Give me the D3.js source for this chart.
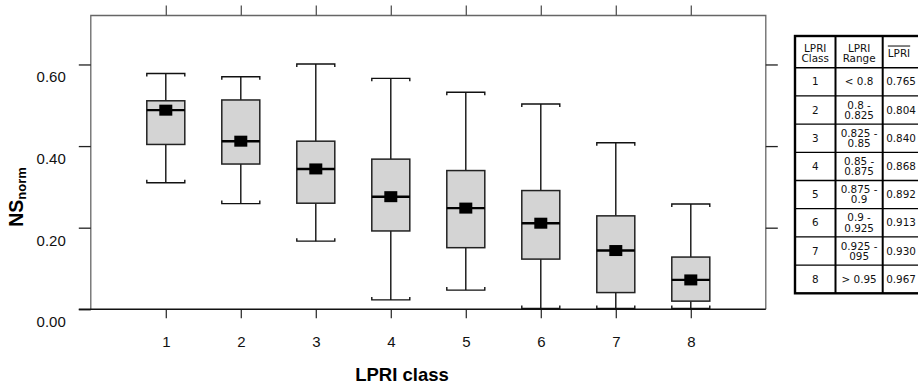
<!DOCTYPE html>
<html>
<head>
<meta charset="utf-8">
<script src="https://cdn.jsdelivr.net/npm/d3@7"></script>
<style>
    body { margin: 0; background: #fff; }
    svg { display: block; }
    .axis text { font-family: "Liberation Sans", Arial, sans-serif; font-size: 15px; fill: #111; }
    .tbl text { font-family: "DejaVu Sans", Tahoma, sans-serif; font-size: 10.4px; fill: #111; }
</style>
</head>
<body>
<script>
'use strict';

// box statistics per LPRI class
const classes = [1, 2, 3, 4, 5, 6, 7, 8];
const whisker_high = [0.578, 0.570, 0.601, 0.566, 0.532, 0.503, 0.408, 0.258];
const q3 = [0.511, 0.513, 0.412, 0.368, 0.340, 0.291, 0.229, 0.128];
const median = [0.488, 0.412, 0.344, 0.276, 0.248, 0.211, 0.144, 0.072];
const mean = [0.488, 0.412, 0.344, 0.276, 0.248, 0.211, 0.144, 0.072];
const q1 = [0.404, 0.356, 0.260, 0.192, 0.151, 0.123, 0.041, 0.020];
const whisker_low = [0.310, 0.259, 0.167, 0.023, 0.047, 0.002, 0.002, 0.002];
const y_ticks = [0, 0.2, 0.4, 0.6];

// side table
const lpri_range = [['< 0.8'], ['0.8 -', '0.825'], ['0.825 -', '0.85'], ['0.85 -', '0.875'],
    ['0.875 -', '0.9'], ['0.9 -', '0.925'], ['0.925 -', '095'], ['> 0.95']];
const lpri_mean = ['0.765', '0.804', '0.840', '0.868', '0.892', '0.913', '0.930', '0.967'];

const chart_width = 918, chart_height = 387;
const box_w = 38, cap_flange = 3, mean_w = 13, mean_h = 11;

const svg = d3.select('body').append('svg')
    .attr('width', chart_width)
    .attr('height', chart_height);

const x = d3.scaleLinear().domain([0, 9]).range([90.8, 765.8]);
const y = d3.scaleLinear().domain([0, 0.72]).range([309.3, 15.5]);

const data = classes.map((c, i) => ({
    c, hi: whisker_high[i], q3: q3[i], med: median[i], mean: mean[i], q1: q1[i], lo: whisker_low[i]
}));

// frame: top + right in grey
svg.append('path')
    .attr('d', `M${x(0)},${y(0)}V${y(0.72)}H${x(9)}V${y(0)}`)
    .attr('fill', 'none')
    .attr('stroke', '#666')
    .attr('stroke-width', 1.3);

// axes
const axis_left = svg.append('g').attr('class', 'axis')
    .attr('transform', `translate(${x(0)},0)`)
    .call(d3.axisLeft(y).tickValues(y_ticks).tickSize(12).tickPadding(13).tickFormat(d3.format('.2f')));
axis_left.select('.domain').remove();
axis_left.selectAll('.tick line').attr('stroke', '#222').attr('stroke-width', 1.3);
axis_left.selectAll('.tick text').attr('dy', 0).attr('y', 17.5);

const axis_right = svg.append('g').attr('class', 'axis')
    .attr('transform', `translate(${x(9)},0)`)
    .call(d3.axisRight(y).tickValues(y_ticks.slice(1)).tickSize(12).tickFormat(''));
axis_right.select('.domain').remove();
axis_right.selectAll('.tick line').attr('stroke', '#222').attr('stroke-width', 1.3);

const axis_bottom = svg.append('g').attr('class', 'axis')
    .attr('transform', `translate(0,${y(0)})`)
    .call(d3.axisBottom(x).tickValues(classes).tickSize(9).tickFormat(d3.format('d')));
axis_bottom.select('.domain').remove();
axis_bottom.selectAll('.tick line').attr('stroke', '#333').attr('stroke-width', 1.3);
axis_bottom.selectAll('.tick text').attr('dy', 0).attr('y', 38.2);

const axis_top = svg.append('g').attr('class', 'axis')
    .attr('transform', `translate(0,${y(0.72)})`)
    .call(d3.axisTop(x).tickValues(classes).tickSize(10).tickFormat(''));
axis_top.select('.domain').remove();
axis_top.selectAll('.tick line').attr('stroke', '#555').attr('stroke-width', 1.3);

// x axis base line, running past the y axis like the tick marks
svg.append('line')
    .attr('x1', x(0) - 12).attr('x2', x(9))
    .attr('y1', y(0)).attr('y2', y(0))
    .attr('stroke', '#111')
    .attr('stroke-width', 1.4);

// boxes
const boxes = svg.append('g').selectAll('.box')
    .data(data)
    .join('g')
    .attr('class', 'box')
    .attr('transform', d => `translate(${x(d.c)},0)`);

boxes.append('line')
    .attr('y1', d => y(d.hi)).attr('y2', d => y(d.q3))
    .attr('stroke', '#111').attr('stroke-width', 1.4);
boxes.append('line')
    .attr('y1', d => y(d.q1)).attr('y2', d => y(d.lo))
    .attr('stroke', '#111').attr('stroke-width', 1.4);

boxes.append('path')
    .attr('d', d => `M${-box_w / 2},${y(d.hi) + cap_flange}V${y(d.hi)}H${box_w / 2}V${y(d.hi) + cap_flange}`)
    .attr('fill', 'none').attr('stroke', '#111').attr('stroke-width', 1.4);
boxes.append('path')
    .attr('d', d => `M${-box_w / 2},${y(d.lo) - cap_flange}V${y(d.lo)}H${box_w / 2}V${y(d.lo) - cap_flange}`)
    .attr('fill', 'none').attr('stroke', '#111').attr('stroke-width', 1.4);

boxes.append('rect')
    .attr('x', -box_w / 2)
    .attr('width', box_w)
    .attr('y', d => y(d.q3))
    .attr('height', d => y(d.q1) - y(d.q3))
    .attr('fill', '#d4d4d4')
    .attr('stroke', '#222')
    .attr('stroke-width', 1.5);

boxes.append('line')
    .attr('x1', -box_w / 2).attr('x2', box_w / 2)
    .attr('y1', d => y(d.med)).attr('y2', d => y(d.med))
    .attr('stroke', '#000').attr('stroke-width', 2.4);

boxes.append('rect')
    .attr('x', -mean_w / 2)
    .attr('width', mean_w)
    .attr('y', d => y(d.mean) - mean_h / 2)
    .attr('height', mean_h)
    .attr('fill', '#000');

// axis titles
svg.append('text')
    .attr('x', 402).attr('y', 381)
    .attr('text-anchor', 'middle')
    .style('font-family', '"Liberation Sans", Arial, sans-serif')
    .style('font-size', '18.5px')
    .style('font-weight', 'bold')
    .text('LPRI class');

const ytitle = svg.append('text')
    .attr('transform', 'translate(23,197) rotate(-90)')
    .attr('text-anchor', 'middle')
    .style('font-family', '"Liberation Sans", Arial, sans-serif')
    .style('font-weight', 'bold');
ytitle.append('tspan').style('font-size', '19.5px').text('NS');
ytitle.append('tspan').style('font-size', '13px').attr('dy', 3).text('norm');

// table on the right (runs off the right edge, as in the original)
const tbl = svg.append('g').attr('class', 'tbl');
const col_x = [795, 835.5, 882.7, 940];
const header_top = 36, header_bottom = 67.7;
const row = d3.scaleBand().domain(classes).range([header_bottom, 293.3]);
const col_mid = i => (col_x[i] + col_x[i + 1]) / 2;

tbl.append('rect')
    .attr('x', col_x[0]).attr('y', header_top)
    .attr('width', col_x[3] - col_x[0]).attr('height', row.range()[1] - header_top)
    .attr('fill', '#fff').attr('stroke', '#000').attr('stroke-width', 2.4);

tbl.selectAll('.vsep')
    .data(col_x.slice(1, 3))
    .join('line')
    .attr('x1', d => d).attr('x2', d => d)
    .attr('y1', header_top).attr('y2', row.range()[1])
    .attr('stroke', '#000').attr('stroke-width', 2);

tbl.selectAll('.hsep')
    .data(classes)
    .join('line')
    .attr('x1', col_x[0]).attr('x2', col_x[3])
    .attr('y1', d => row(d)).attr('y2', d => row(d))
    .attr('stroke', '#000').attr('stroke-width', d => d === 1 ? 1.6 : 1.3);

const header = [['LPRI', 'Class'], ['LPRI', 'Range']];
header.forEach((lines, i) => {
    lines.forEach((s, k) => {
        tbl.append('text')
            .attr('x', col_mid(i)).attr('y', 51.5 + k * 10.5)
            .attr('text-anchor', 'middle')
            .text(s);
    });
});
tbl.append('text')
    .attr('x', 899).attr('y', 56.5)
    .attr('text-anchor', 'middle')
    .style('text-decoration', 'overline')
    .text('LPRI');

const cell_text = (col, lines, d) => {
    const mid = row(d) + row.bandwidth() / 2;
    lines.forEach((s, k) => {
        tbl.append('text')
            .attr('x', col === 2 ? 901 : col_mid(col))
            .attr('y', mid + 3.6 + (k - (lines.length - 1) / 2) * 10.2)
            .attr('text-anchor', 'middle')
            .text(s);
    });
};
classes.forEach((c, i) => {
    cell_text(0, [String(c)], c);
    cell_text(1, lpri_range[i], c);
    cell_text(2, [lpri_mean[i]], c);
});
</script>
</body>
</html>
